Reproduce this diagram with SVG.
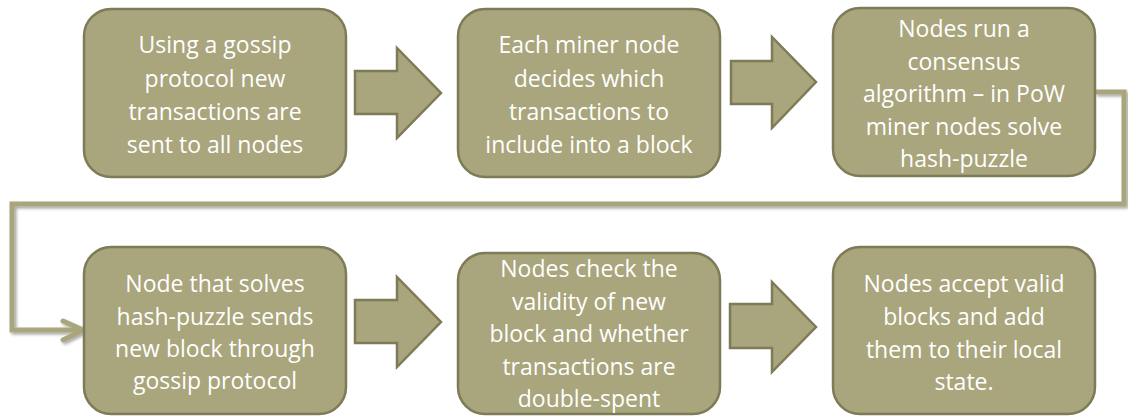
<svg xmlns="http://www.w3.org/2000/svg" width="1128" height="416" viewBox="0 0 1128 416">
<style>
.box{fill:#A9A57C;stroke:#7E7B58;stroke-width:2.5}
.barrow{fill:#A9A57C;stroke:#7E7B58;stroke-width:2.5;stroke-linejoin:miter}
.txt{font-family:"Open Sans","Liberation Sans",sans-serif;font-size:23px;fill:#FFFFFF;text-anchor:middle}
.conn{fill:none;stroke:#A9A57C;stroke-width:5;stroke-linejoin:miter}
</style>
<defs>
<filter id="sh" x="-5%" y="-5%" width="110%" height="120%">
<feGaussianBlur in="SourceAlpha" stdDeviation="1.5"/>
<feOffset dx="1.5" dy="2" result="b"/>
<feFlood flood-color="#000" flood-opacity="0.35"/>
<feComposite in2="b" operator="in"/>
<feMerge><feMergeNode/><feMergeNode in="SourceGraphic"/></feMerge>
</filter>
</defs>
<rect width="1128" height="416" fill="#FFFFFF"/>
<g id="connectors">
<polygon class="barrow" points="355,71 397,71 397,48 441,93 397,138 397,114 355,114"/>
<polygon class="barrow" points="731,61 772,61 772,37 816,82 772,128 772,104 731,104"/>
<polygon class="barrow" points="355,300 397,300 397,277 441,322 397,367 397,343 355,343"/>
<polygon class="barrow" points="730,304 772,304 772,282 816,327 772,372 772,348 730,348"/>
<g filter="url(#sh)">
<path class="conn" d="M1095,92 H1124 V204 H12 V330 H82"/>
<path class="conn" d="M63,321 L83,330 L63,340" stroke-linecap="round"/>
</g>
</g>
<g id="node1">
<rect class="box" x="84" y="9" width="262" height="168" rx="27"/>
<text class="txt"><tspan x="215" y="53">Using a gossip</tspan><tspan x="215" y="87">protocol new</tspan><tspan x="215" y="120">transactions are</tspan><tspan x="215" y="153">sent to all nodes</tspan></text>
</g>
<g id="node2">
<rect class="box" x="458" y="9" width="262" height="168" rx="27"/>
<text class="txt"><tspan x="589" y="53">Each miner node</tspan><tspan x="589" y="87">decides which</tspan><tspan x="589" y="120">transactions to</tspan><tspan x="589" y="153">include into a block</tspan></text>
</g>
<g id="node3">
<rect class="box" x="833" y="8" width="262" height="168" rx="27"/>
<text class="txt"><tspan x="964" y="37">Nodes run a</tspan><tspan x="964" y="69.5">consensus</tspan><tspan x="964" y="102">algorithm – in PoW</tspan><tspan x="964" y="134.5">miner nodes solve</tspan><tspan x="964" y="167">hash-puzzle</tspan></text>
</g>
<g id="node4">
<rect class="box" x="84" y="247" width="262" height="167" rx="27"/>
<text class="txt"><tspan x="215" y="292">Node that solves</tspan><tspan x="215" y="324.5">hash-puzzle sends</tspan><tspan x="215" y="357">new block through</tspan><tspan x="215" y="389">gossip protocol</tspan></text>
</g>
<g id="node5">
<rect class="box" x="458" y="253" width="262" height="161" rx="27"/>
<text class="txt"><tspan x="589" y="277">Nodes check the</tspan><tspan x="589" y="309.5">validity of new</tspan><tspan x="589" y="342">block and whether</tspan><tspan x="589" y="374.5">transactions are</tspan><tspan x="589" y="407">double-spent</tspan></text>
</g>
<g id="node6">
<rect class="box" x="833" y="247" width="262" height="167" rx="27"/>
<text class="txt"><tspan x="964" y="292">Nodes accept valid</tspan><tspan x="964" y="325">blocks and add</tspan><tspan x="964" y="357.5">them to their local</tspan><tspan x="964" y="390">state.</tspan></text>
</g>
</svg>
